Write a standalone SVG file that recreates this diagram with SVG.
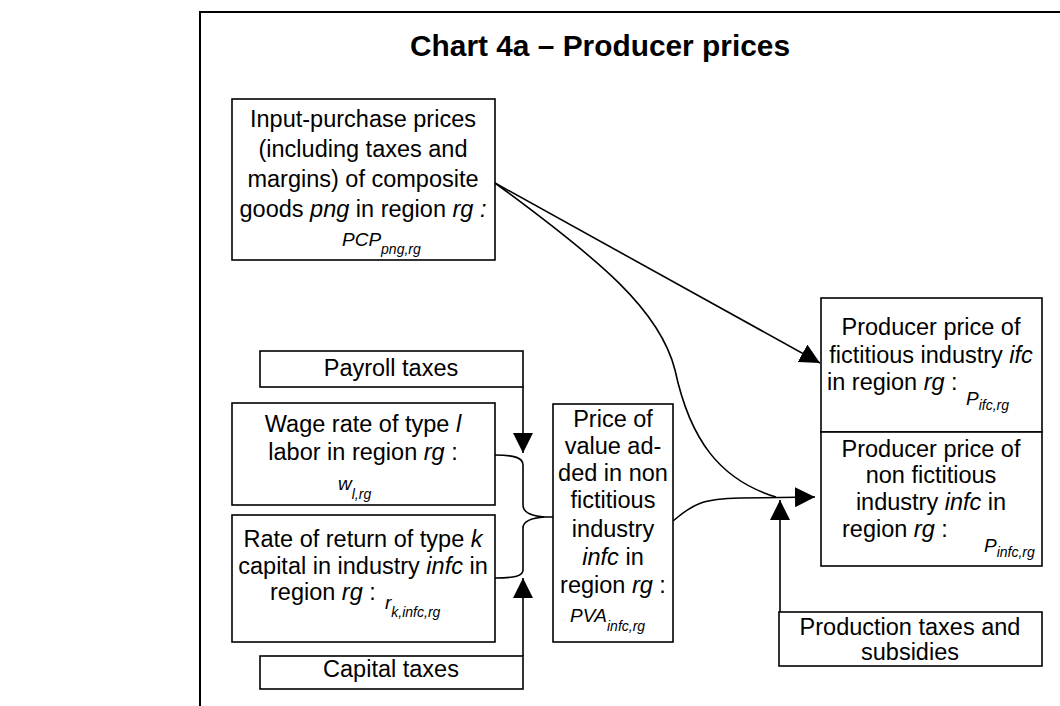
<svg xmlns="http://www.w3.org/2000/svg" width="1060" height="706" viewBox="0 0 1060 706">
<style>
.box{fill:#fff;stroke:#000;stroke-width:1.6}
.t{font-family:"Liberation Sans",Arial,sans-serif;font-size:23.5px;fill:#000}
.c{text-anchor:middle}
.i{font-style:italic}
.sym{font-style:italic;font-size:19px}
.sub{font-style:italic;font-size:14px}
.title{font-family:"Liberation Sans",Arial,sans-serif;font-size:29px;font-weight:bold;text-anchor:middle}
.conn{fill:none;stroke:#000;stroke-width:1.6}
</style>
<defs>
<marker id="ah" markerUnits="userSpaceOnUse" markerWidth="20" markerHeight="20" refX="20" refY="10" orient="auto">
<path d="M0,0 L20,10 L0,20 z" fill="#000"/>
</marker>
</defs>
<rect width="1060" height="706" fill="#fff"/>
<path d="M200,706 L200,12 L1060,12" fill="none" stroke="#000" stroke-width="2"/>
<text class="title" x="600" y="56" textLength="380" lengthAdjust="spacingAndGlyphs">Chart 4a – Producer prices</text>

<g id="connectors">
<path class="conn" d="M495,183 L820,363" marker-end="url(#ah)"/>
<path class="conn" d="M495,183 C600,260 660,310 675,370 C690,440 720,480 776,497"/>
<path class="conn" d="M673,521 C695,502 705,499 740,498 L815,497" marker-end="url(#ah)"/>
<path class="conn" d="M523,387 L523,453" marker-end="url(#ah)"/>
<path class="conn" d="M523,656 L523,578" marker-end="url(#ah)"/>
<path class="conn" d="M780,612 L780,500" marker-end="url(#ah)"/>
<path class="conn" d="M495,455 C515,455 523,458 523,465 L523,505 C523,512 530,516 545,517 L553,517 M545,517 C530,518 523,522 523,528 L523,570 C523,576 515,578 495,578"/>
</g>

<g id="n-input">
<rect class="box" x="232" y="99" width="263" height="161"/>
<text class="t c" x="363" y="127">Input-purchase prices</text>
<text class="t c" x="363" y="157">(including taxes and</text>
<text class="t c" x="363" y="187">margins) of composite</text>
<text class="t c" x="363" y="217">goods <tspan class="i">png</tspan> in region <tspan class="i">rg :</tspan></text>
<text class="t" x="342" y="246"><tspan class="sym">PCP</tspan><tspan class="sub" dy="8">png,rg</tspan></text>
</g>

<g id="n-payroll">
<rect class="box" x="260" y="351" width="263" height="36"/>
<text class="t c" x="391" y="376">Payroll taxes</text>
</g>

<g id="n-wage">
<rect class="box" x="232" y="403" width="263" height="102"/>
<text class="t c" x="363" y="432">Wage rate of type <tspan class="i">l</tspan></text>
<text class="t c" x="363" y="460">labor in region <tspan class="i">rg</tspan> :</text>
<text class="t" x="338" y="490"><tspan class="sym">w</tspan><tspan class="sub" dy="9">l,rg</tspan></text>
</g>

<g id="n-return">
<rect class="box" x="232" y="515" width="263" height="127"/>
<text class="t c" x="363" y="547">Rate of return of type <tspan class="i">k</tspan></text>
<text class="t c" x="363" y="574">capital in industry <tspan class="i">infc</tspan> in</text>
<text class="t" x="270" y="600">region <tspan class="i">rg</tspan> : <tspan class="sym" x="385" dy="9">r</tspan><tspan class="sub" dy="8">k,infc,rg</tspan></text>
</g>

<g id="n-capital">
<rect class="box" x="260" y="656" width="263" height="33"/>
<text class="t c" x="391" y="677">Capital taxes</text>
</g>

<g id="n-pva">
<rect class="box" x="553" y="404" width="120" height="238"/>
<text class="t c" x="613" y="427">Price of</text>
<text class="t c" x="613" y="454">value ad-</text>
<text class="t c" x="613" y="481">ded in non</text>
<text class="t c" x="613" y="508">fictitious</text>
<text class="t c" x="613" y="537">industry</text>
<text class="t c" x="613" y="565"><tspan class="i">infc</tspan> in</text>
<text class="t c" x="613" y="593">region <tspan class="i">rg</tspan> :</text>
<text class="t" x="570" y="622"><tspan class="sym">PVA</tspan><tspan class="sub" dy="9">infc,rg</tspan></text>
</g>

<g id="n-pifc">
<rect class="box" x="821" y="298" width="221" height="134"/>
<text class="t c" x="931" y="335">Producer price of</text>
<text class="t c" x="931" y="363">fictitious industry <tspan class="i">ifc</tspan></text>
<text class="t" x="827" y="390">in region <tspan class="i">rg</tspan> : <tspan class="sym" x="966" dy="15">P</tspan><tspan class="sub" dy="5">ifc,rg</tspan></text>
</g>

<g id="n-pinfc">
<rect class="box" x="821" y="432" width="221" height="134"/>
<text class="t c" x="931" y="457">Producer price of</text>
<text class="t c" x="931" y="483">non fictitious</text>
<text class="t c" x="931" y="510">industry <tspan class="i">infc</tspan> in</text>
<text class="t" x="842" y="537">region <tspan class="i">rg</tspan> : <tspan class="sym" x="984" dy="15">P</tspan><tspan class="sub" dy="5">infc,rg</tspan></text>
</g>

<g id="n-prodtax">
<rect class="box" x="779" y="612" width="263" height="54"/>
<text class="t c" x="910" y="635">Production taxes and</text>
<text class="t c" x="910" y="660">subsidies</text>
</g>
</svg>
